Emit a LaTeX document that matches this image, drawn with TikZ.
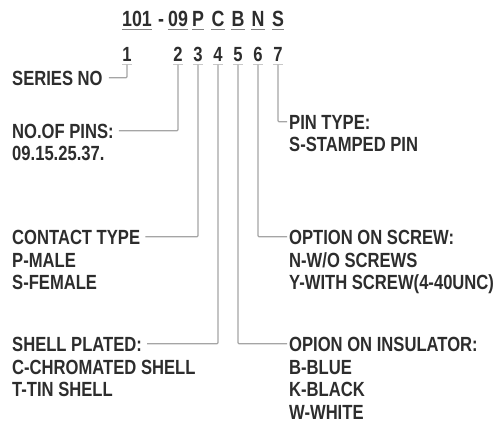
\documentclass[tikz,border=0pt]{standalone}
\usepackage{fontspec}
\setmainfont{Liberation Sans}[FakeStretch=0.81,UprightFont={* Bold}]
\definecolor{ink}{RGB}{45,45,45}
\definecolor{conncol}{RGB}{165,165,165}
\definecolor{ulcol}{RGB}{130,130,130}
\definecolor{tickcol}{RGB}{200,200,200}
\newcommand\stk[1]{\vtop{\baselineskip=22.5pt\relax #1}}
\tikzset{
  code/.style={font=\fontsize{22}{24}\selectfont, text=ink, inner sep=0pt, text depth=0pt, anchor=base},
  num/.style={font=\fontsize{20.5}{22}\selectfont, text=ink, inner sep=0pt, text depth=0pt, anchor=base},
  title/.style={font=\fontsize{20.5}{22.5}\selectfont, text=ink, inner sep=0pt, text height=14.5pt, text depth=0pt, anchor=base west},
  body/.style={font=\fontsize{20.5}{22.5}\selectfont, text=ink, inner sep=0pt, anchor=base west},
  conn/.style={draw=conncol, line width=1.2pt, rounded corners=1pt},
  uline/.style={draw=ulcol, line width=1.3pt},
  tickln/.style={draw=tickcol, line width=1pt}
}
\begin{document}
\begin{tikzpicture}[x=1pt,y=-1pt]
\useasboundingbox (0,0) rectangle (502,423);
% code row
\node[code] (c101) at (137,26) {101};
\node[code] (cdash) at (161,26) {-};
\node[code] (c09) at (178,26) {09};
\node[code] (cP) at (198,26) {P};
\node[code] (cC) at (218,26) {C};
\node[code] (cB) at (238,26) {B};
\node[code] (cN) at (258,26) {N};
\node[code] (cS) at (278,26) {S};
\foreach \c in {c101,c09,cP,cC,cB,cN,cS}
  \draw[uline] ([yshift=-3.5pt]\c.south west) -- ([yshift=-3.5pt]\c.south east);
% numbers
\node[num] (n1) at (127,61) {1};
\node[num] (n2) at (178,61) {2};
\node[num] (n3) at (198,61) {3};
\node[num] (n4) at (218,61) {4};
\node[num] (n5) at (238,61) {5};
\node[num] (n6) at (258,61) {6};
\node[num] (n7) at (278,61) {7};
\foreach \n in {n1,n2,n3,n4,n5,n6,n7}
  \draw[tickln] ([xshift=-5pt,yshift=-3.5pt]\n.south) -- ([xshift=5pt,yshift=-3.5pt]\n.south);
% left labels
\node[title] (series) at (12,85) {SERIES NO};
\node[title] (pins) at (12,138) {NO.OF PINS:};
\node[body] (pinsb) at (12,160) {\stk{\hbox{09.15.25.37.}}};
\node[title] (contact) at (12,244) {CONTACT TYPE};
\node[body] (contactb) at (12,267) {\stk{\hbox{P-MALE}\hbox{S-FEMALE}}};
\node[title] (shell) at (12,351) {SHELL PLATED:};
\node[body] (shellb) at (12,374) {\stk{\hbox{C-CHROMATED SHELL}\hbox{T-TIN SHELL}}};
% right labels
\node[title] (ptype) at (289,129) {PIN TYPE:};
\node[body] (ptypeb) at (289,151) {\stk{\hbox{S-STAMPED PIN}}};
\node[title] (screw) at (289,244) {OPTION ON SCREW:};
\node[body] (screwb) at (289,267) {\stk{\hbox{N-W/O SCREWS}\hbox{Y-WITH SCREW(4-40UNC)}}};
\node[title] (insul) at (289,351) {OPION ON INSULATOR:};
\node[body] (insulb) at (289,374) {\stk{\hbox{B-BLUE}\hbox{K-BLACK}\hbox{W-WHITE}}};
% connectors
\draw[conn] ([yshift=-3.5pt]n1.south) |- ([xshift=6pt]series.east);
\draw[conn] ([yshift=-3.5pt]n2.south) |- ([xshift=5pt]pins.east);
\draw[conn] ([yshift=-3.5pt]n3.south) |- ([xshift=5pt]contact.east);
\draw[conn] ([yshift=-3.5pt]n4.south) |- ([xshift=5pt]shell.east);
\draw[conn] ([yshift=-3.5pt]n5.south) |- ([xshift=-2pt]insul.west);
\draw[conn] ([yshift=-3.5pt]n6.south) |- ([xshift=-2pt]screw.west);
\draw[conn] ([yshift=-3.5pt]n7.south) |- ([xshift=-2pt]ptype.west);
\end{tikzpicture}
\end{document}
